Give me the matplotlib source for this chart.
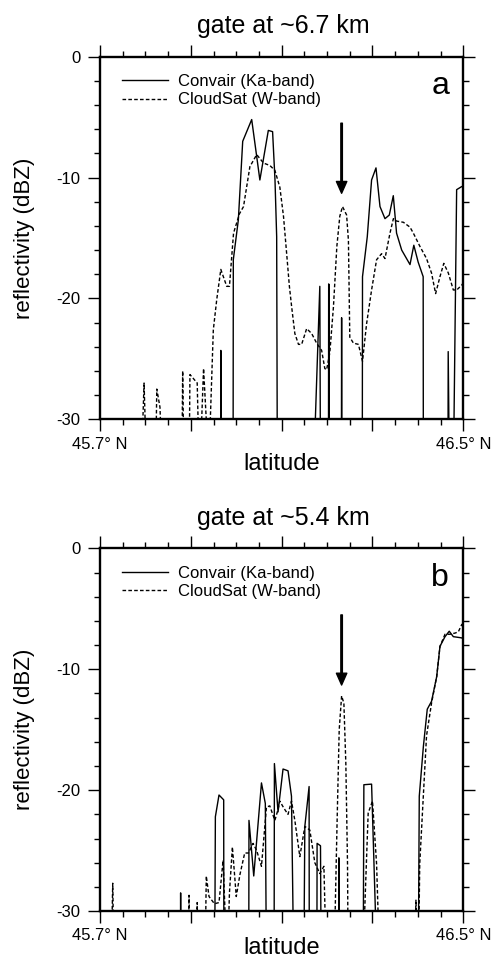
import matplotlib
matplotlib.use('Agg')
import matplotlib.pyplot as plt
from matplotlib.ticker import MultipleLocator, FixedLocator, FixedFormatter

plt.rcParams['font.family'] = ['Liberation Sans', 'DejaVu Sans']
plt.rcParams['axes.unicode_minus'] = False

NO = -35.0  # below the plotted range (no echo)

titles = ['gate at ~6.7 km', 'gate at ~5.4 km']
panel_labels = ['a', 'b']
legend_labels = ['Convair (Ka-band)', 'CloudSat (W-band)']
xtick_vals = [45.7, 45.9, 46.1, 46.3, 46.5]
xtick_labels = ['45.7° N', '', '', '', '46.5° N']
arrow_lat = 46.232
arrow_top, arrow_tip = -5.5, -11.3

# ---- panel a: gate at ~6.7 km ----
a_convair_lat = [45.960, 45.9655, 45.966, 45.9665,
                 45.993, 45.9935, 46.0046, 46.0142, 46.034, 46.052, 46.0706, 46.080,
                 46.0853, 46.089, 46.0905,
                 46.1697, 46.184, 46.1855,
                 46.2030, 46.2035, 46.2045, 46.2050,
                 46.2315, 46.232, 46.2325,
                 46.2775, 46.278, 46.2885, 46.298, 46.3077, 46.3165, 46.3275, 46.337,
                 46.3458, 46.353, 46.3643, 46.3826, 46.391, 46.4006, 46.4116, 46.412,
                 46.4662, 46.4667, 46.4695,
                 46.478, 46.4853, 46.4963, 46.500]
a_convair_dbz = [NO, NO, -24.3, NO,
                 NO, -16.8, -13.5, -7.0, -5.2, -10.2, -6.1, -6.2,
                 -10.2, -14.9, NO,
                 NO, -19.0, NO,
                 NO, -18.8, -18.9, NO,
                 NO, -21.6, NO,
                 NO, -18.2, -14.9, -10.2, -9.2, -12.4, -13.4, -13.1,
                 -11.5, -14.6, -16.0, -17.2, -15.6, -17.0, -18.2, NO,
                 NO, -24.4, NO,
                 NO, -11.0, -10.75, -10.7]

a_cloudsat_lat = [45.790, 45.797, 45.803,
                  45.822, 45.825, 45.832, 45.838,
                  45.880, 45.882, 45.885,
                  45.896, 45.898, 45.914, 45.919, 45.928, 45.941,
                  45.942, 45.9495, 45.957, 45.966, 45.979, 45.985, 45.994, 46.007,
                  46.016, 46.030, 46.045, 46.060, 46.074, 46.085, 46.096, 46.104,
                  46.111, 46.117, 46.122, 46.129, 46.137, 46.144, 46.155, 46.166,
                  46.177, 46.188, 46.195, 46.199, 46.206, 46.214, 46.2215, 46.228,
                  46.234, 46.243, 46.247, 46.250, 46.258, 46.269, 46.278, 46.287,
                  46.298, 46.309, 46.320, 46.3275, 46.3385, 46.346, 46.353, 46.368,
                  46.3825, 46.390, 46.4045, 46.419, 46.430, 46.439, 46.4486, 46.457,
                  46.467, 46.478, 46.4855, 46.4965, 46.500]
a_cloudsat_dbz = [NO, -27.0, NO,
                  NO, -27.5, -29.0, NO,
                  NO, -26.0, NO,
                  NO, -26.3, -27.0, NO, -25.8, NO,
                  -31.0, -22.6, -20.1, -17.6, -19.0, -19.0, -14.6, -13.0,
                  -12.4, -9.1, -8.1, -8.8, -9.0, -9.4, -10.8, -13.2,
                  -16.3, -19.0, -20.7, -22.9, -23.8, -23.8, -22.5, -22.9,
                  -23.7, -24.3, -25.8, -25.9, -24.5, -20.7, -15.7, -13.2,
                  -12.4, -13.1, -15.2, -23.2, -23.7, -23.8, -25.2, -22.1,
                  -19.3, -16.8, -16.3, -16.7, -14.6, -13.4, -13.6, -13.7,
                  -14.1, -14.6, -15.7, -16.7, -17.9, -19.6, -18.2, -17.1,
                  -17.9, -19.3, -19.3, -18.9, -18.7]

# ---- panel b: gate at ~5.4 km ----
b_convair_lat = [45.877, 45.8775, 45.878,
                 45.9525, 45.954, 45.962, 45.9723, 45.9728,
                 46.0275, 46.028, 46.0385, 46.0555, 46.064, 46.0665,
                 46.0833, 46.084, 46.092, 46.103, 46.114, 46.1216, 46.1267,
                 46.1487, 46.151, 46.1604, 46.1608,
                 46.1775, 46.178, 46.1855, 46.187,
                 46.2255, 46.226, 46.2265,
                 46.2795, 46.281, 46.298, 46.3104,
                 46.4008, 46.403, 46.412, 46.4206, 46.430, 46.4414, 46.4486, 46.4597,
                 46.469, 46.478, 46.4965, 46.500]
b_convair_dbz = [NO, -28.5, NO,
                 NO, -22.2, -20.4, -20.8, NO,
                 NO, -22.5, -27.1, -19.4, -21.1, NO,
                 NO, -17.8, -21.8, -18.25, -18.4, -20.5, NO,
                 NO, -23.0, -19.7, NO,
                 NO, -24.4, -24.6, NO,
                 NO, -25.6, NO,
                 NO, -19.55, -19.5, NO,
                 NO, -20.5, -16.4, -13.3, -12.65, -10.6, -8.1, -7.3,
                 -6.85, -7.3, -7.4, -7.5]

b_cloudsat_lat = [45.724, 45.728, 45.731,
                  45.894, 45.896, 45.899,
                  45.912, 45.914, 45.917,
                  45.931, 45.934, 45.940, 45.952, 45.962, 45.971, 45.975, 45.980,
                  45.985, 45.9915, 46.000, 46.008, 46.0186, 46.027, 46.037, 46.045,
                  46.0555, 46.0665, 46.0738, 46.085, 46.092, 46.0958, 46.105, 46.114,
                  46.1216, 46.129, 46.140, 46.151, 46.162, 46.173, 46.184, 46.193,
                  46.1988,
                  46.215, 46.222, 46.2267, 46.232, 46.237, 46.2413, 46.245, 46.2465,
                  46.278, 46.2905, 46.300, 46.309, 46.3163,
                  46.392, 46.3957, 46.399,
                  46.401, 46.404, 46.419, 46.430, 46.4414, 46.4486, 46.4597, 46.4707,
                  46.482, 46.489, 46.4965, 46.500]
b_cloudsat_dbz = [NO, -27.7, NO,
                  NO, -28.7, NO,
                  NO, -29.3, NO,
                  NO, -27.1, -28.8, -29.4, -29.3, -25.8, -29.8, NO,
                  -28.5, -24.7, -28.8, -27.0, -25.2, -25.2, -24.4, -25.0,
                  -26.3, -21.4, -21.3, -22.5, -21.6, -20.9, -21.5, -22.0,
                  -20.9, -22.5, -25.5, -23.0, -23.3, -26.0, -26.9, -26.3,
                  NO,
                  NO, -22.7, -15.0, -12.2, -12.8, -17.8, -26.1, NO,
                  NO, -21.9, -20.9, -26.1, NO,
                  NO, -29.1, NO,
                  NO, -26.1, -15.5, -12.8, -10.6, -8.1, -7.1, -7.1,
                  -7.0, -6.9, -6.3, -6.2]

panels = [(a_convair_lat, a_convair_dbz, a_cloudsat_lat, a_cloudsat_dbz),
          (b_convair_lat, b_convair_dbz, b_cloudsat_lat, b_cloudsat_dbz)]

fig = plt.figure(figsize=(4.92, 9.61), dpi=100)
axes_pos = [[0.2033, 0.5637, 0.7384, 0.3773],
            [0.2033, 0.0520, 0.7384, 0.3773]]
xlabel_y = [-0.094, -0.072]

for i, (clat, cdbz, slat, sdbz) in enumerate(panels):
    ax = fig.add_axes(axes_pos[i])
    l1, = ax.plot(clat, cdbz, color='k', lw=1.0, ls='-')
    l2, = ax.plot(slat, sdbz, color='k', lw=1.0, ls=(0, (2.6, 1.6)))
    ax.set_xlim(45.7, 46.5)
    ax.set_ylim(-30, 0)
    ax.xaxis.set_major_locator(FixedLocator(xtick_vals))
    ax.xaxis.set_major_formatter(FixedFormatter(xtick_labels))
    ax.xaxis.set_minor_locator(MultipleLocator(0.05))
    ax.yaxis.set_major_locator(MultipleLocator(10))
    ax.yaxis.set_minor_locator(MultipleLocator(2))
    ax.tick_params(which='both', direction='out', top=True, right=True,
                   labeltop=False, labelright=False, width=1.0, labelsize=12)
    ax.tick_params(which='major', length=8.5)
    ax.tick_params(which='minor', length=4.2)
    ax.tick_params(axis='x', pad=4)
    ax.tick_params(axis='y', pad=5.5)
    for sp in ax.spines.values():
        sp.set_linewidth(1.7)
    ax.set_ylabel('reflectivity (dBZ)', fontsize=16)
    ax.yaxis.set_label_coords(-0.18, 0.5)
    ax.set_xlabel('latitude', fontsize=17)
    ax.xaxis.set_label_coords(0.5, xlabel_y[i])
    ax.text(0.505, 1.0645, titles[i], transform=ax.transAxes, ha='center',
            va='baseline', fontsize=18)
    ax.text(0.9606, 0.919, panel_labels[i], transform=ax.transAxes, ha='right',
            va='center', fontsize=23)
    ax.annotate('', xy=(arrow_lat, arrow_tip), xytext=(arrow_lat, arrow_top),
                arrowprops=dict(facecolor='k', edgecolor='k', width=1.1,
                                headwidth=7.5, headlength=8.5, shrink=0))
    ax.legend([l1, l2], legend_labels, loc='upper left', frameon=False,
              bbox_to_anchor=(0.0, 1.012),
              fontsize=12, handlelength=2.8, handletextpad=0.55,
              borderaxespad=0.9, borderpad=0.4, labelspacing=0.2)

fig.savefig('out.png', dpi=100)
